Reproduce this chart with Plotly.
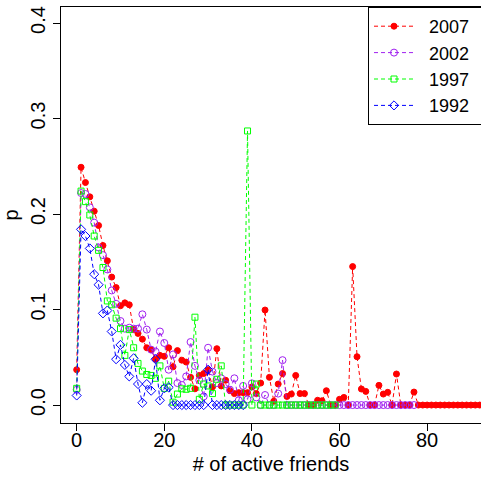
import plotly.graph_objects as go

# ---- data ----
p2007 = [0.037, 0.249, 0.233, 0.218, 0.203, 0.188, 0.167, 0.151, 0.134, 0.123,
         0.104, 0.107, 0.105, 0.079, 0.075, 0.069, 0.060, 0.058, 0.048, 0.052,
         0.051, 0.060, 0.040, 0.057, 0.047, 0.045, 0.029, 0.017, 0.031, 0.033,
         0.037, 0.019, 0.059, 0.020, 0.026, 0.015, 0.012, 0.013, 0.013, 0.013,
         0.019, 0.012, 0.023, 0.0995, 0.029, 0.004, 0.022, 0.033, 0.009, 0.0115,
         0.031, 0.012, 0.012, 0.0, 0.0, 0.005, 0.0045, 0.015, 0.0, 0.0,
         0.006, 0.008, 0.0, 0.145, 0.0506, 0.0168, 0.0143, 0.0, 0.0, 0.0206,
         0.0115, 0.0133, 0.0, 0.0325, 0.0, 0.0, 0.0, 0.0136, 0.0, 0.0,
         0.0, 0.0, 0.0, 0.0, 0.0, 0.0, 0.0, 0.0, 0.0, 0.0,
         0.0, 0.0, 0.0, 0.0, 0.0, 0.0]

p2002 = [0.016, 0.222, 0.221, 0.207, 0.191, 0.165, 0.157, 0.142, 0.120, 0.106,
         0.088, 0.080, 0.081, 0.080, 0.080, 0.095, 0.079, 0.058, 0.056, 0.077,
         0.065, 0.037, 0.053, 0.023, 0.021, 0.030, 0.066, 0.041, 0.026, 0.009,
         0.060, 0.035, 0.023, 0.028, 0.022, 0.016, 0.028, 0.005, 0.020, 0.006,
         0.0227, 0.008, 0.0, 0.0105, 0.0, 0.0, 0.012, 0.047, 0.0, 0.0,
         0.0, 0.0, 0.0, 0.0, 0.0, 0.0, 0.0, 0.0, 0.0, 0.0,
         0.0, 0.0, 0.0, 0.0, 0.0, 0.0, 0.0, 0.0, 0.0, 0.0,
         0.0, 0.0, 0.0, 0.0, 0.0, 0.0, 0.0, 0.0]

p1997 = [0.0175, 0.224, 0.213, 0.199, 0.177, 0.162, 0.144, 0.109, 0.105, 0.091,
         0.080, 0.052, 0.079, 0.060, 0.0436, 0.0356, 0.032, 0.031, 0.028, 0.041,
         0.0175, 0.025, 0.003, 0.0115, 0.017, 0.0165, 0.0175, 0.092, 0.006, 0.022,
         0.020, 0.012, 0.027, 0.041, 0.0, 0.0, 0.0, 0.0, 0.0, 0.287,
         0.0, 0.022, 0.0, 0.0, 0.0, 0.0, 0.0, 0.0, 0.0, 0.0,
         0.0, 0.0, 0.0, 0.0, 0.0, 0.0, 0.0, 0.0, 0.0, 0.0]

p1992 = [0.010, 0.184, 0.177, 0.164, 0.137, 0.126, 0.096, 0.099, 0.077, 0.048,
         0.063, 0.042, 0.030, 0.049, 0.022, 0.0024, 0.022, 0.015, 0.048, 0.005,
         0.0175, 0.0185, 0.0, 0.0, 0.0, 0.0, 0.0, 0.0, 0.0, 0.0,
         0.037, 0.0, 0.0, 0.0, 0.0, 0.0, 0.0, 0.0, 0.0]

series = [
    ("2007", p2007, "#FF0000", "circle", 6),
    ("2002", p2002, "#A020F0", "circle-open", 7),
    ("1997", p1997, "#00FF00", "square-open", 6),
    ("1992", p1992, "#0000FF", "diamond-open", 7),
]

FONT = "Liberation Sans, Arial, Helvetica, sans-serif"
NB = "\u00a0"

fig = go.Figure()
for name, vals, color, symbol, size in series:
    fig.add_trace(go.Scatter(
        x=list(range(len(vals))), y=vals,
        name=NB * 2 + name + NB * 2, mode="lines+markers",
        line=dict(color=color, width=1, dash="4px,3px"),
        marker=dict(color=color, symbol=symbol, size=size,
                    line=dict(color=color, width=1)),
    ))

fig.update_layout(
    width=481, height=477,
    margin=dict(l=61, r=0, t=7, b=54, autoexpand=False),
    paper_bgcolor="white", plot_bgcolor="white",
    font=dict(family=FONT, size=20, color="black"),
    showlegend=True,
    legend=dict(x=(368 - 61) / 420, y=1, xanchor="left", yanchor="top",
                bgcolor="white", bordercolor="black", borderwidth=1,
                font=dict(size=18, family=FONT), itemwidth=40),
)
fig.update_xaxes(
    range=[-3.58, 92.3], tickmode="array", tickvals=[0, 20, 40, 60, 80],
    showgrid=False, zeroline=False, showline=True, mirror=True,
    linecolor="black", linewidth=1, ticks="outside", ticklen=7,
    tickcolor="black", tickfont=dict(size=20), ticklabelstandoff=-8,
    title=dict(text="# of active friends", font=dict(size=20), standoff=6),
)
fig.update_yaxes(
    range=[-0.0188, 0.4168], tickmode="array",
    tickvals=[0.0, 0.1, 0.2, 0.3, 0.4],
    ticktext=["0.0", "0.1", "0.2", "0.3", "0.4"], tickangle=-90,
    showgrid=False, zeroline=False, showline=True, mirror=False,
    linecolor="black", linewidth=1, ticks="outside", ticklen=7,
    tickcolor="black", tickfont=dict(size=20),
    title=dict(text="p", font=dict(size=20), standoff=4),
)

fig.write_html("out.html")
